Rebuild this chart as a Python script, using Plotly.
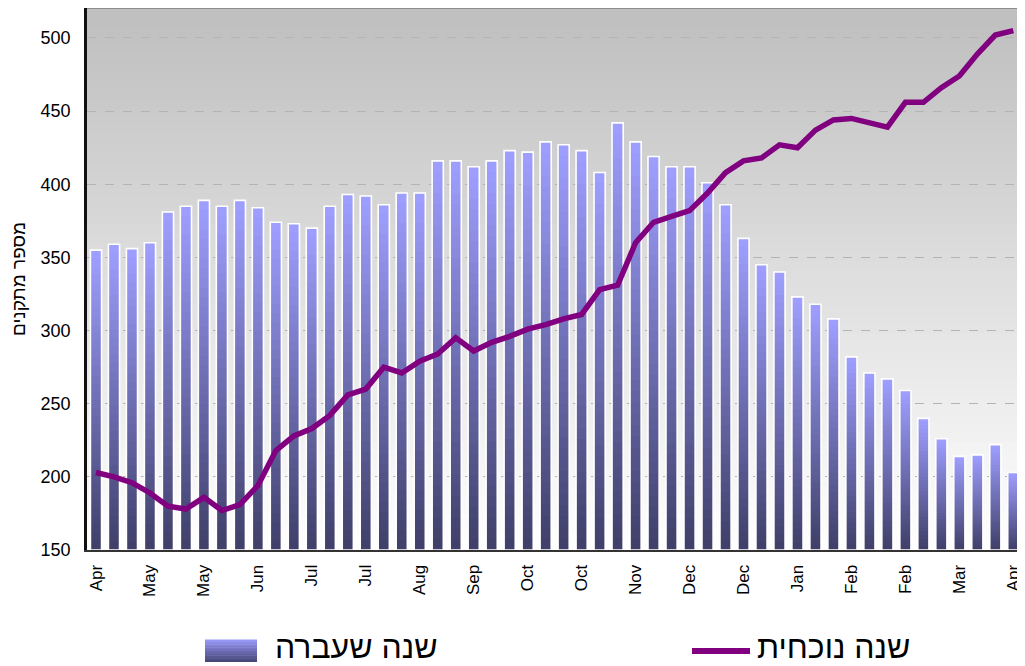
import plotly.graph_objects as go

# ---------------- data ----------------
last_year = [355, 359, 356, 360, 381, 385, 389, 385, 389, 384, 374, 373, 370,
             385, 393, 392, 386, 394, 394, 416, 416, 412, 416, 423, 422, 429,
             427, 423, 408, 442, 429, 419, 412, 412, 401, 386, 363, 345, 340,
             323, 318, 308, 282, 271, 267, 259, 240, 226, 214, 215, 222, 203]
current_year = [203, 200, 196, 189, 180, 178, 186, 177, 181, 194, 218, 228, 233,
                242, 256, 260, 275, 271, 279, 284, 295, 286, 292, 296, 301, 304,
                308, 311, 328, 331, 360, 374, 378, 382, 394, 408, 416, 418, 427,
                425, 437, 444, 445, 442, 439, 456, 456, 466, 474, 489, 502, 505]
week_index = list(range(len(last_year)))
tick_labels = ["Apr", "May", "May", "Jun", "Jul", "Jul", "Aug", "Sep", "Oct",
               "Oct", "Nov", "Dec", "Dec", "Jan", "Feb", "Feb", "Mar", "Apr"]
tick_positions = week_index[::3]
series_names = ["שנה שעברה", "שנה נוכחית"]
y_title = "מספר מתקנים"
y_min = 150

# ---------------- styling helpers ----------------
FONT = "Liberation Sans, Arial, sans-serif"
DARK = (64, 64, 106)
LIGHT = (158, 158, 255)


def mix(c1, c2, t):
    return "rgb(%d,%d,%d)" % tuple(round(a + (b - a) * t) for a, b in zip(c1, c2))


fig = go.Figure()

# gradient bars built from stacked segments
N = 36
bar_w = 0.62
for k in range(N):
    t = k / (N - 1)
    heights = [(v - y_min) / N for v in last_year]
    bases = [y_min + k * h for h in heights]
    seg = [h * (1.0 if k == N - 1 else 1.6) for h in heights]
    fig.add_trace(go.Bar(
        x=week_index, y=seg, base=bases, width=bar_w,
        marker=dict(color=mix(DARK, LIGHT, t), line=dict(width=0)),
        showlegend=False, hoverinfo="skip"))

# white outline around each bar
fig.add_trace(go.Bar(
    x=week_index, y=[v - y_min for v in last_year], base=y_min, width=bar_w,
    marker=dict(color="rgba(0,0,0,0)", line=dict(color="white", width=1.6)),
    name=series_names[0], showlegend=False))

# current year line
fig.add_trace(go.Scatter(
    x=week_index, y=current_year, mode="lines",
    line=dict(color="#800080", width=5.5),
    name=series_names[1], showlegend=False))

# ---------------- layout ----------------
# page body has an 8px margin; figure is sized so it ends at the window edge
PAGE = 8
FIG_W, FIG_H = 1025 - PAGE, 666 - PAGE
X0, W, Y0, H = 87, 938, 8, 542   # plot area in window pixels


def fx(px):
    return (px - X0) / W


def fy(py):
    return (Y0 + H - py) / H


shapes = []
# background gradient (gray at top to white at bottom)
NB = 60
for b in range(NB):
    t = b / NB
    g = round(255 - (255 - 192) * min(1.0, (t + 0.5 / NB) / 0.97))
    shapes.append(dict(type="rect", xref="paper", yref="paper",
                       x0=0, x1=1, y0=t, y1=(b + 1) / NB + 0.002,
                       fillcolor="rgb(%d,%d,%d)" % (g, g, g),
                       line=dict(width=0), layer="below"))
# top border
shapes.append(dict(type="line", xref="paper", yref="paper", x0=0, x1=1,
                   y0=1, y1=1, line=dict(color="#8c8c8c", width=2)))

# legend: gradient square
NS = 14
sq_x0, sq_x1, sq_top, sq_bot = 205, 257, 640, 662
for k in range(NS):
    t = k / (NS - 1)
    y_lo = sq_bot - (sq_bot - sq_top) * k / NS
    y_hi = sq_bot - (sq_bot - sq_top) * (k + 1) / NS
    shapes.append(dict(type="rect", xref="paper", yref="paper",
                       x0=fx(sq_x0), x1=fx(sq_x1), y0=fy(y_lo), y1=fy(y_hi) + 0.001,
                       fillcolor=mix((70, 70, 120), (150, 150, 245), t),
                       line=dict(width=0)))
# legend: line sample
shapes.append(dict(type="line", xref="paper", yref="paper",
                   x0=fx(692), x1=fx(750), y0=fy(651), y1=fy(651),
                   line=dict(color="#800080", width=6)))

annotations = [
    dict(text=series_names[0], xref="paper", yref="paper", x=fx(273), y=fy(647),
         xanchor="left", yanchor="middle", showarrow=False,
         font=dict(family=FONT, size=32, color="black")),
    dict(text=series_names[1], xref="paper", yref="paper", x=fx(755), y=fy(647),
         xanchor="left", yanchor="middle", showarrow=False,
         font=dict(family=FONT, size=32, color="black")),
]

fig.update_layout(
    width=FIG_W, height=FIG_H,
    margin=dict(l=X0 - PAGE, r=0, t=Y0 - PAGE, b=FIG_H - (Y0 - PAGE) - H,
                autoexpand=False),
    paper_bgcolor="white", plot_bgcolor="white",
    barmode="overlay", showlegend=False,
    font=dict(family=FONT, color="black"),
    shapes=shapes, annotations=annotations,
    xaxis=dict(range=[-0.5, 51.65], tickmode="array", tickvals=tick_positions,
               ticktext=tick_labels, tickangle=-90, tickfont=dict(size=17),
               showgrid=False, showline=True, linecolor="#333333", linewidth=2,
               ticks="", ticklabelstandoff=6, zeroline=False, automargin=False,
               ticklabeloverflow="allow"),
    yaxis=dict(range=[y_min, 520.5], dtick=50, tick0=0, tickfont=dict(size=18),
               showgrid=True, gridcolor="#b4b4b4", griddash="dash", gridwidth=1,
               showline=True, linecolor="#111111", linewidth=2.5,
               ticks="", ticklabelstandoff=10, zeroline=False, automargin=False,
               title=dict(text=y_title, font=dict(size=19), standoff=12)),
)

fig.write_html("out.html")
